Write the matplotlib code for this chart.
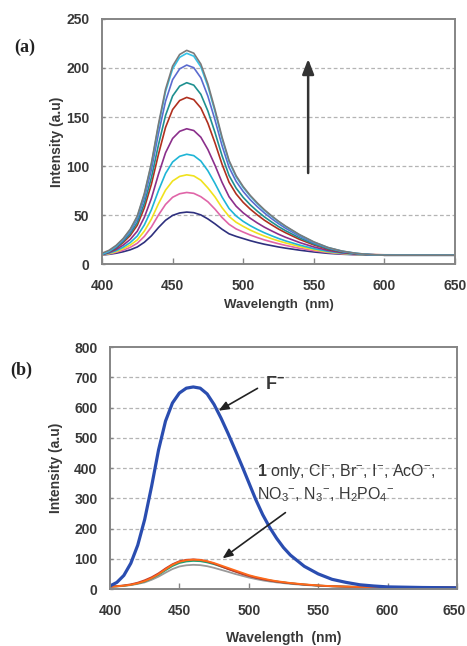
import matplotlib.pyplot as plt
import matplotlib.transforms as mtransforms
import numpy as np

plt.rcParams['font.family'] = ['Liberation Sans', 'DejaVu Sans']
plt.rcParams['mathtext.fontset'] = 'custom'
plt.rcParams['mathtext.rm'] = 'Liberation Sans'
plt.rcParams['mathtext.bf'] = 'Liberation Sans:bold'

# wavelengths (nm)
wl = [400, 405, 410, 415, 420, 425, 430, 435, 440, 445, 450, 455, 460, 465,
      470, 475, 480, 485, 490, 495, 500, 505, 510, 515, 520, 525, 530,
      540, 550, 560, 570, 580, 590, 600, 625, 650]

# (a) titration spectra, lowest to highest
a_navy = [9.2, 9.9, 11, 12.5, 14.5, 17.4, 22.2, 28.8, 37.2, 44.6, 49.6, 52.1, 53, 52.4, 50.1, 46, 41, 35.5, 30.8, 28.2, 26, 23.8, 21.9, 20.2, 18.8, 17.4, 16.2, 14.1, 12.3, 10.9, 10, 9.5, 9.2, 9, 9, 9]
a_pink = [9.3, 10.3, 11.9, 14.1, 17, 21.2, 28.2, 37.8, 50, 60.8, 68.1, 71.7, 73, 72.1, 68.7, 63.5, 56, 47.5, 40.5, 35.8, 32.6, 29.6, 27, 24.6, 22.6, 20.7, 19, 16, 13.6, 11.7, 10.4, 9.6, 9.2, 9, 9, 9]
a_yellow = [9.4, 10.6, 12.7, 15.6, 19.3, 24.6, 33.6, 45.9, 61.5, 75.4, 84.7, 89.4, 91, 89.9, 85.5, 77.6, 68.5, 57.5, 48.5, 42.6, 38.4, 34.6, 31.4, 28.5, 25.9, 23.6, 21.5, 17.8, 14.7, 12.3, 10.8, 9.8, 9.3, 9, 9, 9]
a_cyan = [9.5, 11.1, 13.6, 17.2, 21.9, 28.6, 39.9, 55.4, 74.9, 92.4, 104.1, 109.9, 112, 110.6, 105.1, 95.1, 82.3, 68.4, 56.6, 49, 43.5, 39.1, 35.3, 31.9, 28.9, 26.1, 23.6, 19.3, 15.7, 12.9, 11.1, 9.9, 9.3, 9, 9, 9]
a_purple = [9.6, 11.6, 14.8, 19.3, 25.1, 33.5, 47.7, 67, 91.6, 113.5, 128.1, 135.4, 138, 136.2, 129.4, 116.8, 100.8, 83.4, 68.6, 59, 52.2, 46.7, 41.9, 37.6, 33.9, 30.4, 27.3, 21.9, 17.4, 13.9, 11.6, 10.2, 9.4, 9, 9, 9]
a_red = [9.8, 12.2, 16.2, 21.9, 29.1, 39.6, 57.3, 81.5, 112, 139.4, 157.6, 166.8, 170, 167.7, 159.2, 143.6, 123.6, 101.9, 83.4, 71.5, 62.9, 56, 50.1, 44.7, 40.1, 35.7, 31.9, 25.1, 19.5, 15.1, 12.2, 10.4, 9.7, 9.4, 9.3, 9.3]
a_teal = [9.9, 12.5, 16.9, 23.1, 31, 42.4, 61.8, 88.2, 121.6, 151.6, 171.4, 181.5, 185, 182.5, 173.2, 156.1, 134.3, 110.6, 90.3, 77.4, 68, 60.4, 53.9, 48.1, 43, 38.2, 34, 26.6, 20.4, 15.7, 12.5, 10.6, 9.5, 9, 9, 9]
a_blue = [10, 12.9, 17.7, 24.5, 33.3, 45.9, 67.2, 96.3, 133.2, 166.1, 188.1, 199.1, 203, 200.3, 190, 171.2, 147.1, 120.9, 98.6, 84.3, 74, 65.6, 58.5, 52.1, 46.4, 41.2, 36.5, 28.4, 21.6, 16.4, 12.9, 10.7, 9.6, 9, 9, 9]
a_lblue = [10, 13.1, 18.3, 25.5, 34.8, 48.1, 70.8, 101.7, 140.8, 175.9, 199.1, 210.9, 215, 212.1, 201.2, 181.2, 155.7, 127.9, 104.2, 88.9, 78, 69.2, 61.5, 54.7, 48.8, 43.2, 38.3, 29.6, 22.4, 16.8, 13.1, 10.9, 9.6, 9, 9, 9]
a_gray = [11, 14, 19, 26, 35.5, 49, 72, 103, 142.8, 178.3, 201.9, 213.8, 218, 215.1, 204, 183.7, 157.8, 129.6, 105.6, 90.1, 79, 70, 62.3, 55.4, 49.3, 43.7, 38.7, 29.9, 22.6, 16.9, 13.2, 10.9, 9.6, 9, 9, 9]

series_a = [a_navy, a_pink, a_yellow, a_cyan, a_purple, a_red, a_teal, a_blue, a_lblue, a_gray]
colors_a = ['#2e307e', '#e065a8', '#f0e21e', '#1fb5d6', '#8b2f8b', '#b0301f',
            '#1f9090', '#5b6bcf', '#33c2e8', '#7a7a7a']

# (b) anion screening
b_F = [10, 22, 45, 85, 145, 230, 340, 460, 555, 615, 648, 664, 668, 664, 645, 610, 565, 515, 462, 408, 352, 296, 246, 204, 168, 137, 112, 75, 50, 32, 22, 14, 10, 7, 5, 4]
b_orange = [8, 9, 11, 14, 19, 26, 36, 49, 65, 80, 90, 95, 97, 96, 92, 86, 78, 70, 62, 54, 46, 40, 35, 30, 26, 23, 20, 15.5, 12, 9.5, 8, 7, 6.5, 6, 5.5, 5]
b_red = [8, 9.5, 12, 15.5, 21, 29, 39, 52, 68, 82, 92, 96.5, 98, 96.5, 91.5, 84, 75, 66, 58, 50, 43, 37, 32, 28, 24.5, 21.5, 19, 14.5, 11.5, 9, 7.8, 6.8, 6.3, 6, 5.5, 5]
b_green = [8, 9, 11, 14, 18.5, 25, 35, 47, 62, 76, 86, 91, 93, 92, 88, 82, 74.5, 67, 59, 51.5, 44, 38, 33, 28.5, 25, 22, 19, 14.8, 11.5, 9.2, 7.8, 7, 6.5, 6, 5.5, 5]
b_gray = [7.5, 8.5, 10, 13, 17, 22, 30.5, 41, 54, 66, 74.5, 78.5, 80, 79, 75.5, 70, 63.5, 57, 50, 44, 38, 33, 28.5, 25, 22, 19.5, 17, 13.5, 10.5, 8.8, 7.5, 6.8, 6.3, 6, 5.5, 5]

txt = '#383838'
frame = '#858585'

fig = plt.figure(figsize=(4.67, 6.46), dpi=100)
ax1 = fig.add_axes([0.2184, 0.5913, 0.7559, 0.3793])
ax2 = fig.add_axes([0.2355, 0.0882, 0.7431, 0.3746])


def style(ax, ymax, ystep, xl_size, xl_pad, yl_pad):
    ax.set_xlim(400, 650)
    ax.set_ylim(0, ymax)
    ax.set_xticks(np.arange(400, 651, 50))
    ax.set_yticks(np.arange(0, ymax + 1, ystep))
    for y in np.arange(ystep, ymax, ystep):
        ax.axhline(y, color='#b4b4b4', lw=0.9, ls=(0, (3, 2)), zorder=0)
    for s in ax.spines.values():
        s.set_color(frame)
        s.set_linewidth(1.4)
    ax.tick_params(axis='x', direction='in', length=4, width=1, color=frame,
                   labelsize=10, labelcolor=txt, pad=11)
    ax.tick_params(axis='y', direction='in', length=2, width=1, color=frame,
                   labelsize=10, labelcolor=txt, pad=9)
    for lab in ax.get_xticklabels() + ax.get_yticklabels():
        lab.set_fontweight('bold')
    ax.set_xlabel('Wavelength  (nm)', fontsize=xl_size, fontweight='bold', color=txt,
                  labelpad=xl_pad)
    ax.set_ylabel('Intensity (a.u)', fontsize=10, fontweight='bold', color=txt,
                  labelpad=yl_pad)


style(ax1, 250, 50, 9.5, 4, 1.5)
for ys, c in zip(series_a, colors_a):
    ax1.plot(wl, ys, color=c, lw=1.2)
ax1.annotate('', xy=(546, 212), xytext=(546, 90),
             arrowprops=dict(arrowstyle='-|>,head_width=0.35,head_length=0.9',
                             color='#333333', lw=1.8))

style(ax2, 800, 100, 10, 9.5, 8)
# keep the last tick label inside the figure
last = ax2.get_xticklabels()[-1]
last.set_transform(last.get_transform() +
                   mtransforms.ScaledTranslation(-3 / 100, 0, fig.dpi_scale_trans))
for ys, c in zip([b_gray, b_green, b_red, b_orange], ['#9a9a9a', '#1fa070', '#c0392b', '#ff6a1a']):
    ax2.plot(wl, ys, color=c, lw=1.3)
ax2.plot(wl, b_F, color='#2a4db0', lw=2.3)

ax2.annotate('', xy=(476.5, 585), xytext=(508, 668),
             arrowprops=dict(arrowstyle='-|>,head_width=0.25,head_length=0.6',
                             color='#222222', lw=1.2))
ax2.text(512, 675, r'F$^{\mathbf{-}}$', fontsize=13, fontweight='bold', color=txt,
         va='center', ha='left')
ax2.text(506, 388, r'$\mathbf{1}$ only, Cl$^{-}$, Br$^{-}$, I$^{-}$, AcO$^{-}$,',
         fontsize=11.5, color=txt, va='center', ha='left')
ax2.text(506, 312, r'NO$_3$$^{-}$, N$_3$$^{-}$, H$_2$PO$_4$$^{-}$',
         fontsize=11.5, color=txt, va='center', ha='left')
ax2.annotate('', xy=(479.5, 96), xytext=(528, 258),
             arrowprops=dict(arrowstyle='-|>,head_width=0.25,head_length=0.6',
                             color='#222222', lw=1.2))

fig.text(25 / 467, 1 - 47 / 646, '(a)', family='Liberation Serif', fontweight='bold',
         fontsize=13, color='#222222', ha='center', va='center')
fig.text(21 / 467, 1 - 370 / 646, '(b)', family='Liberation Serif', fontweight='bold',
         fontsize=13, color='#222222', ha='center', va='center')

fig.savefig('out.png', dpi=100)
